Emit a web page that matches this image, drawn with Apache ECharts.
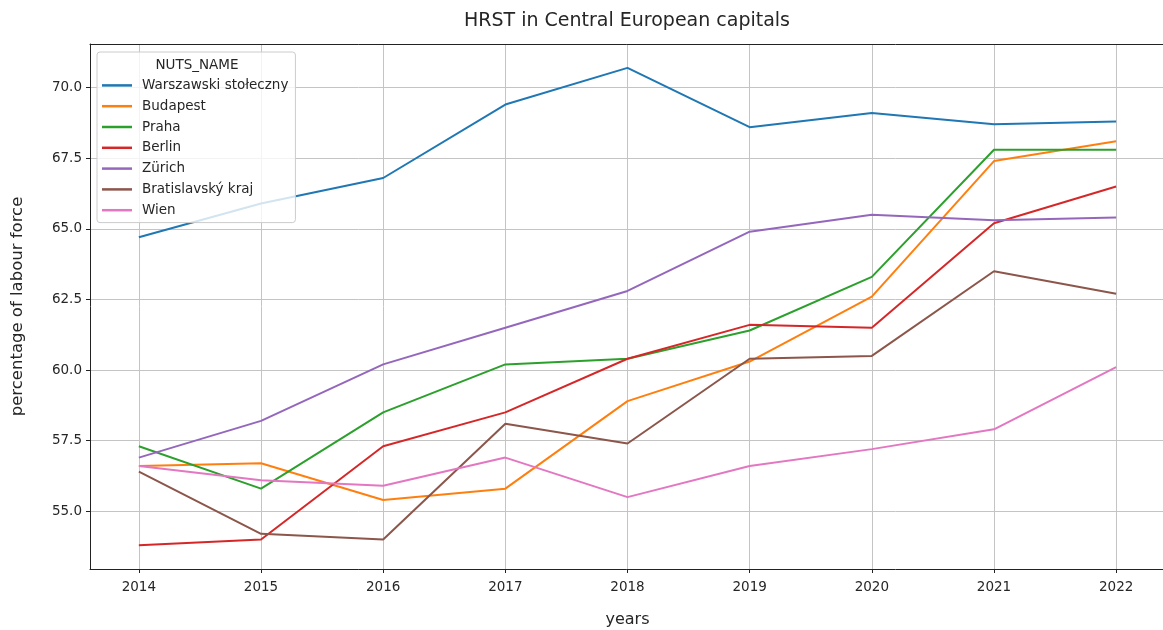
<!DOCTYPE html>
<html>
<head>
<meta charset="utf-8">
<title>HRST in Central European capitals</title>
<script src="https://cdn.jsdelivr.net/npm/echarts@6/dist/echarts.min.js"></script>
<style>
  html, body { margin: 0; padding: 0; background: #fff; }
  #chart { width: 1163px; height: 630px; }
</style>
</head>
<body>
<div id="chart"></div>
<script>
// Share of the labour force that is HRST, by capital region
const years = [2014, 2015, 2016, 2017, 2018, 2019, 2020, 2021, 2022];
const regionNames = ['Warszawski stołeczny', 'Budapest', 'Praha', 'Berlin', 'Zürich', 'Bratislavský kraj', 'Wien'];
const warszawa   = [64.7, 65.9, 66.8, 69.4, 70.7, 68.6, 69.1, 68.7, 68.8];
const budapest   = [56.6, 56.7, 55.4, 55.8, 58.9, 60.3, 62.6, 67.4, 68.1];
const praha      = [57.3, 55.8, 58.5, 60.2, 60.4, 61.4, 63.3, 67.8, 67.8];
const berlin     = [53.8, 54.0, 57.3, 58.5, 60.4, 61.6, 61.5, 65.2, 66.5];
const zurich     = [56.9, 58.2, 60.2, 61.5, 62.8, 64.9, 65.5, 65.3, 65.4];
const bratislava = [56.4, 54.2, 54.0, 58.1, 57.4, 60.4, 60.5, 63.5, 62.7];
const wien       = [56.6, 56.1, 55.9, 56.9, 55.5, 56.6, 57.2, 57.9, 60.1];
const yTicks = [55.0, 57.5, 60.0, 62.5, 65.0, 67.5, 70.0];

const seriesValues = [warszawa, budapest, praha, berlin, zurich, bratislava, wien];
const palette = ['#1f77b4', '#ff7f0e', '#2ca02c', '#d62728', '#9467bd', '#8c564b', '#e377c2'];

// 5% padding on both axes around the data range
const allVals = seriesValues.flat();
const vMin = Math.min(...allVals), vMax = Math.max(...allVals);
const vPad = (vMax - vMin) * 0.05;
const xPad = (years[years.length - 1] - years[0]) * 0.05;
const xMin = years[0] - xPad, xMax = years[years.length - 1] + xPad;

const FONT = 'DejaVu Sans';
const TXT = '#262626';
const SPINE = '#222';
const GRIDC = '#c4c4c4';

const chart = echarts.init(document.getElementById('chart'), null, { renderer: 'canvas' });

chart.setOption({
  animation: false,
  backgroundColor: '#ffffff',
  textStyle: { fontFamily: FONT },
  // plot area runs slightly past the right edge of the canvas
  grid: { left: 90, top: 44, width: 1075, height: 525, show: false, containLabel: false, outerBoundsMode: 'none' },
  graphic: [
    {
      type: 'text', x: 627, y: 21, z: 10,
      style: { text: 'HRST in Central European capitals', fontFamily: FONT, fontSize: 19,
               fill: TXT, align: 'center', verticalAlign: 'middle' }
    },
    {
      type: 'text', x: 197, y: 65, z: 10,
      style: { text: 'NUTS_NAME', fontFamily: FONT, fontSize: 13.5,
               fill: TXT, align: 'center', verticalAlign: 'middle' }
    }
  ],
  legend: {
    orient: 'vertical',
    left: 97, top: 52,
    padding: [23, 7, 2, 5],
    itemGap: 0,
    itemWidth: 30,
    itemHeight: 2.5,
    icon: 'rect',
    backgroundColor: 'rgba(255,255,255,0.8)',
    borderColor: '#cccccc', borderWidth: 1, borderRadius: 3,
    textStyle: { fontFamily: FONT, fontSize: 13.5, color: TXT, lineHeight: 20.8, padding: [0, 0, 0, 5] },
    data: regionNames
  },
  xAxis: [
    {
      type: 'value',
      min: xMin, max: xMax,
      name: 'years', nameLocation: 'middle', nameGap: 43,
      nameTextStyle: { fontFamily: FONT, fontSize: 16, color: TXT },
      axisLine: { show: true, onZero: false, lineStyle: { color: SPINE, width: 1 } },
      axisTick: { show: true, length: 4, inside: false, customValues: years, lineStyle: { color: SPINE } },
      axisLabel: { customValues: years, fontFamily: FONT, fontSize: 13.5, color: TXT, margin: 11,
                   formatter: v => String(Math.round(v)) },
      splitLine: { show: true, lineStyle: { color: GRIDC, width: 1 } }
    },
    {
      // top frame line
      type: 'value', position: 'top',
      min: xMin, max: xMax,
      axisLine: { show: true, onZero: false, lineStyle: { color: SPINE, width: 1 } },
      axisTick: { show: false }, axisLabel: { show: false }, splitLine: { show: false }
    }
  ],
  yAxis: {
    type: 'value',
    min: vMin - vPad, max: vMax + vPad,
    name: 'percentage of labour force', nameLocation: 'middle', nameGap: 64, nameRotate: 90,
    nameTextStyle: { fontFamily: FONT, fontSize: 16.5, color: TXT },
    axisLine: { show: true, onZero: false, lineStyle: { color: SPINE, width: 1 } },
    axisTick: { show: true, length: 4, inside: false, customValues: yTicks, lineStyle: { color: SPINE } },
    axisLabel: { customValues: yTicks, fontFamily: FONT, fontSize: 13.5, color: TXT, margin: 8,
                 formatter: v => v.toFixed(1) },
    splitLine: { show: true, lineStyle: { color: GRIDC, width: 1 } }
  },
  series: regionNames.map((name, i) => ({
    name,
    type: 'line',
    xAxisIndex: 0,
    showSymbol: false,
    symbol: 'none',
    color: palette[i],
    lineStyle: { width: 2, color: palette[i] },
    data: years.map((y, j) => [y, seriesValues[i][j]])
  }))
});
</script>
</body>
</html>
